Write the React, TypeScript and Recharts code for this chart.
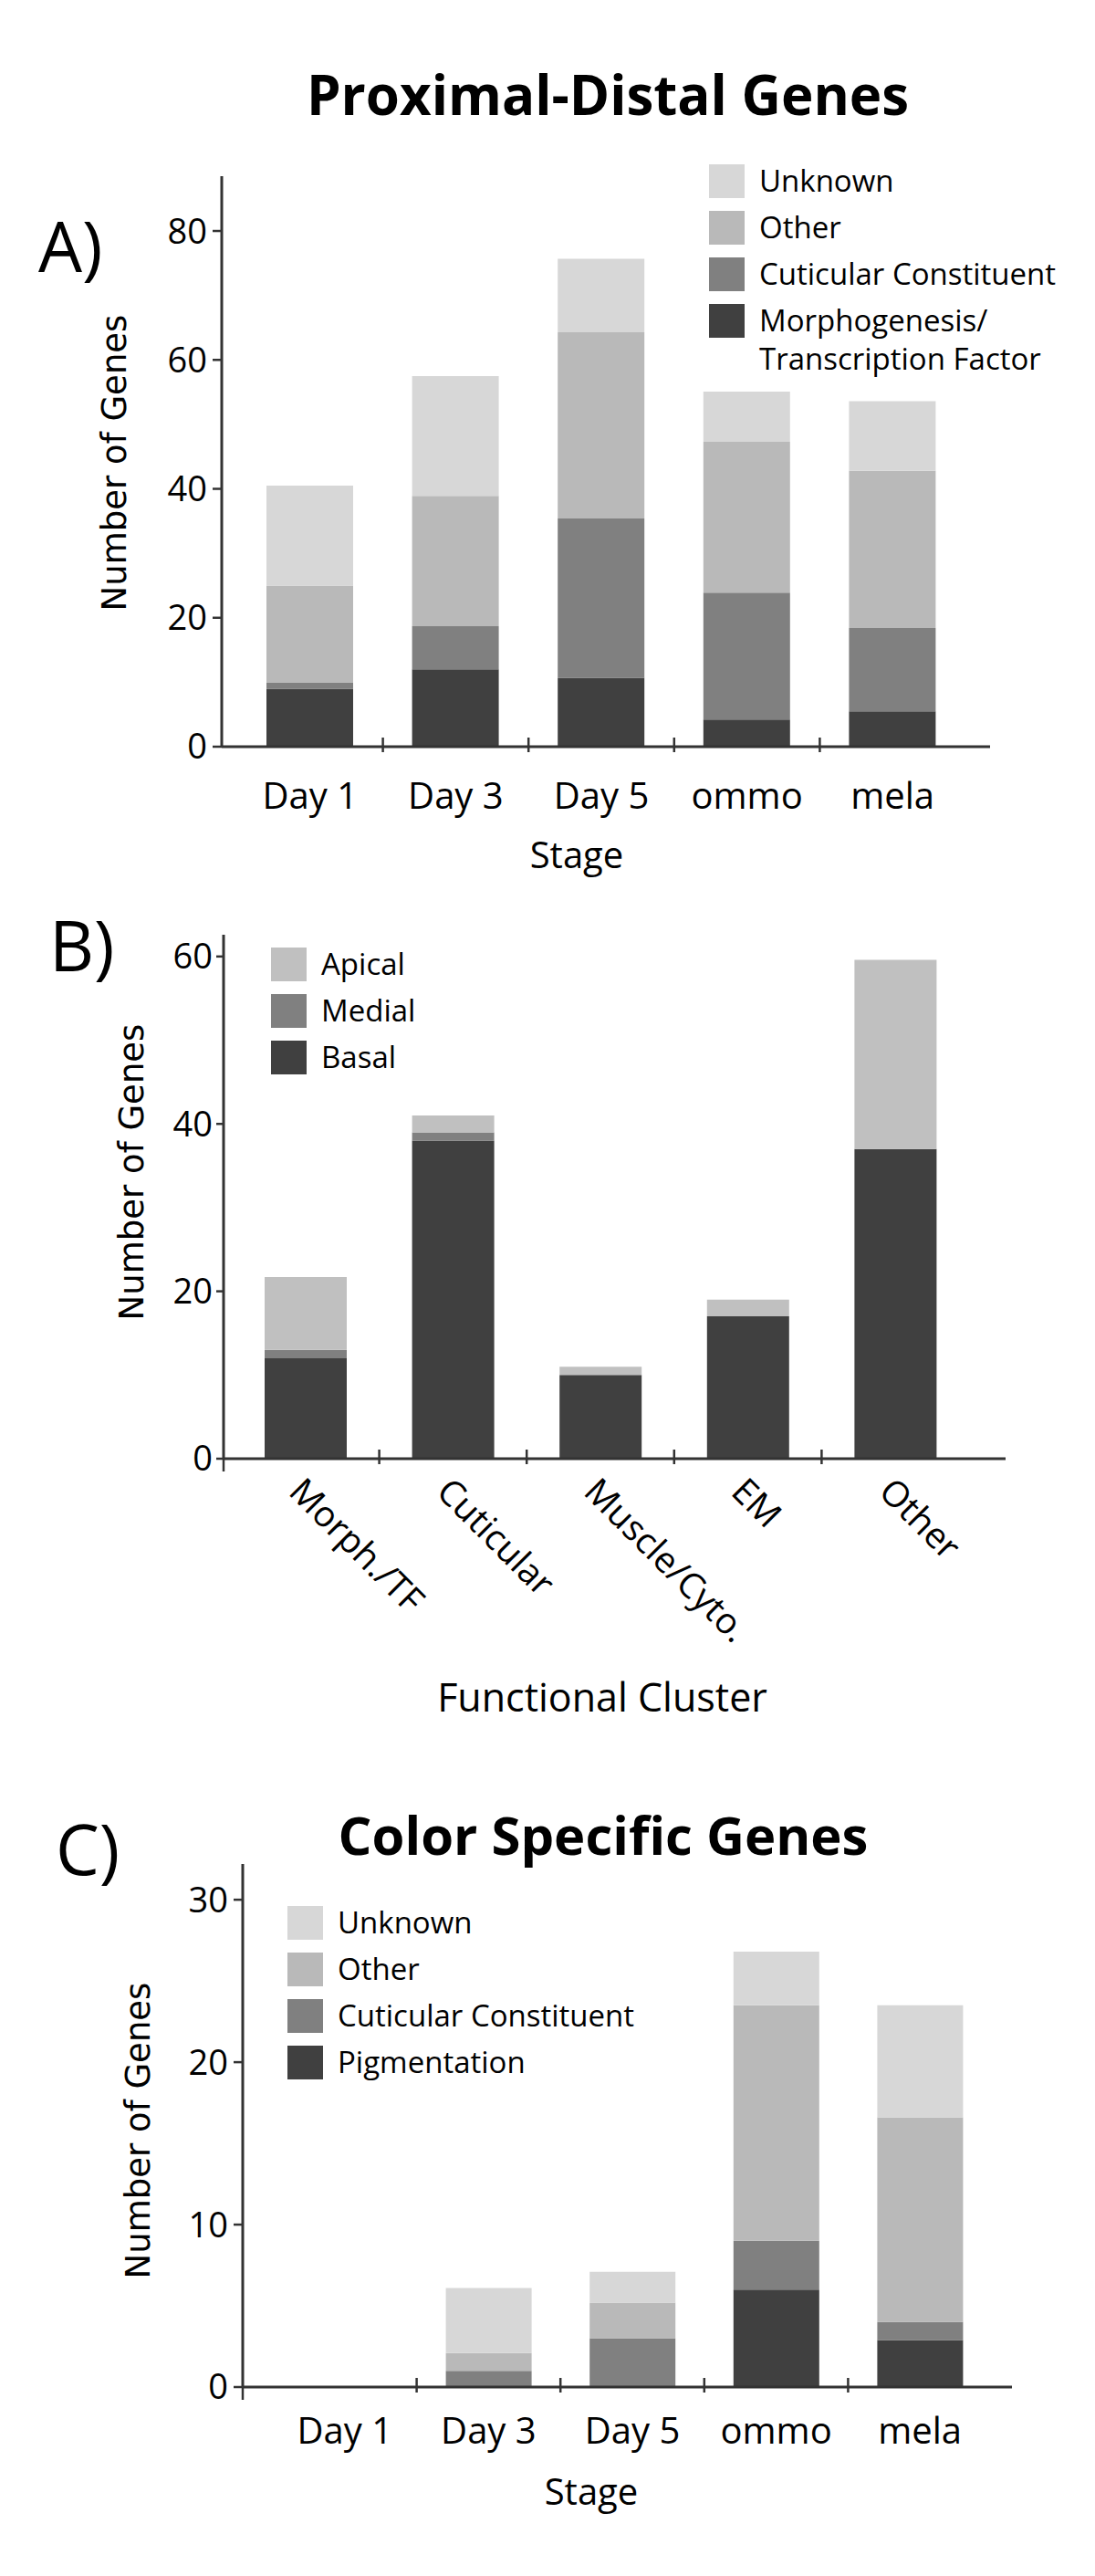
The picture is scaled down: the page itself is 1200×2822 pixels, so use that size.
import { BarChart, Bar, XAxis, YAxis, Legend } from "recharts";

// Panel A: Proximal-Distal Genes by stage
const stagesA = ["Day 1", "Day 3", "Day 5", "ommo", "mela"];
const morphA = [9, 12, 10.7, 4.2, 5.5];
const cuticularA = [1, 6.7, 24.7, 19.7, 12.9];
const otherA = [15, 20.2, 28.9, 23.4, 24.4];
const unknownA = [15.5, 18.6, 11.4, 7.8, 10.8];

// Panel B: functional cluster by position
const clustersB = ["Morph./TF", "Cuticular", "Muscle/Cyto.", "EM", "Other"];
const basalB = [12, 38, 10, 17, 37];
const medialB = [1, 1, 0, 0, 0];
const apicalB = [8.7, 2, 1, 2, 22.6];

// Panel C: Color Specific Genes by stage
const stagesC = ["Day 1", "Day 3", "Day 5", "ommo", "mela"];
const pigmentC = [0, 0, 0, 6, 2.9];
const cuticularC = [0, 1, 3, 3, 1.1];
const otherC = [0, 1.1, 2.2, 14.5, 12.6];
const unknownC = [0, 4, 1.9, 3.3, 6.9];

const ticksA = [0, 20, 40, 60, 80];
const ticksB = [0, 20, 40, 60];
const ticksC = [0, 10, 20, 30];

const dataA = stagesA.map((stage, i) => ({
  stage,
  morph: morphA[i],
  cuticular: cuticularA[i],
  other: otherA[i],
  unknown: unknownA[i],
}));
const dataB = clustersB.map((cluster, i) => ({
  cluster,
  basal: basalB[i],
  medial: medialB[i],
  apical: apicalB[i],
}));
const dataC = stagesC.map((stage, i) => ({
  stage,
  pigment: pigmentC[i],
  cuticular: cuticularC[i],
  other: otherC[i],
  unknown: unknownC[i],
}));

const C_UNKNOWN = "#d7d7d7";
const C_OTHER = "#b9b9b9";
const C_CUT = "#808080";
const C_DARK = "#404040";
const C_APICAL = "#c0c0c0";
const AXIS = "#333";
const SANS = "'Open Sans', sans-serif";
const WIDE = "'DejaVu Sans', sans-serif";

// legend listed top-down, in the order given by `order` (dataKeys)
const LegendBox = (props: any) => {
  const payload = props.payload || [];
  const items = props.order
    .map((k: string) => payload.find((p: any) => p.dataKey === k))
    .filter(Boolean);
  return (
    <div style={{ fontFamily: SANS, fontSize: 33, color: "#000" }}>
      {items.map((it: any, i: number) => (
        <div key={i} style={{ position: "relative", height: 51 }}>
          <span
            style={{
              position: "absolute",
              left: 0,
              top: 0,
              width: 39,
              height: 37,
              background: it.color,
            }}
          />
          <span
            style={{
              position: "absolute",
              left: 55,
              top: -3,
              lineHeight: "42px",
              whiteSpace: "pre",
            }}
          >
            {it.value}
          </span>
        </div>
      ))}
    </div>
  );
};

// category label at band centre, tick marks drawn at band boundaries
const CatTick = (props: any) => {
  const { x, y, payload, index, band, dy, rotate, fontSize, edgeTick, padLeft } = props;
  const bx = x - band / 2;
  return (
    <g>
      {index > 0 && <line x1={bx} x2={bx} y1={y - 10} y2={y + 6} stroke={AXIS} strokeWidth={2.5} />}
      {index === 0 && edgeTick && (
        <line x1={bx - padLeft} x2={bx - padLeft} y1={y} y2={y + 14} stroke={AXIS} strokeWidth={2.5} />
      )}
      {rotate ? (
        <text
          x={x - 20}
          y={y + dy}
          transform={`rotate(45 ${x - 20} ${y + dy})`}
          fontFamily={SANS}
          fontSize={fontSize}
          fill="#000"
          textAnchor="start"
        >
          {payload.value}
        </text>
      ) : (
        <text x={x} y={y + dy} fontFamily={SANS} fontSize={fontSize} fill="#000" textAnchor="middle">
          {payload.value}
        </text>
      )}
    </g>
  );
};

const yTick = { fontFamily: SANS, fontSize: 38, fill: "#000" };

const App = () => {
  // plot widths used for the band size of the boundary ticks
  const bandA = (1085 - 243 - 17 - 27) / stagesA.length;
  const bandB = (1102 - 245 - 9 - 40) / clustersB.length;
  const bandC = (1109 - 266 - 33 - 22) / stagesC.length;

  return (
    <div style={{ position: "absolute", left: 0, top: 0, width: 1200, height: 2822, background: "#fff" }}>
      <div style={{ position: "absolute", left: 0, top: 0 }}>
        <BarChart
          width={1200}
          height={1000}
          data={dataA}
          margin={{ top: 193, right: 115, left: 183, bottom: 122 }}
          barSize={95}
        >
          <XAxis
            dataKey="stage"
            height={60}
            padding={{ left: 17, right: 27 }}
            axisLine={{ stroke: AXIS, strokeWidth: 3 }}
            tickLine={false}
            tickSize={0}
            tickMargin={0}
            interval={0}
            tick={(p: any) => <CatTick {...p} band={bandA} dy={68} fontSize={40} />}
          />
          <YAxis
            width={60}
            domain={[0, 88.5]}
            ticks={ticksA}
            allowDataOverflow
            axisLine={{ stroke: AXIS, strokeWidth: 3 }}
            tickLine={{ stroke: AXIS, strokeWidth: 2.5 }}
            tickSize={10}
            tickMargin={6}
            tick={yTick}
          />
          <Legend
            layout="vertical"
            align="center"
            verticalAlign="middle"
            wrapperStyle={{ left: 777, top: 180, width: 420 }}
            content={(p: any) => <LegendBox {...p} order={["unknown", "other", "cuticular", "morph"]} />}
          />
          <Bar dataKey="morph" name={"Morphogenesis/\nTranscription Factor"} stackId="a" fill={C_DARK} isAnimationActive={false} />
          <Bar dataKey="cuticular" name="Cuticular Constituent" stackId="a" fill={C_CUT} isAnimationActive={false} />
          <Bar dataKey="other" name="Other" stackId="a" fill={C_OTHER} isAnimationActive={false} />
          <Bar dataKey="unknown" name="Unknown" stackId="a" fill={C_UNKNOWN} isAnimationActive={false} />
        </BarChart>
      </div>

      <div style={{ position: "absolute", left: 0, top: 950 }}>
        <BarChart
          width={1200}
          height={900}
          data={dataB}
          margin={{ top: 74, right: 98, left: 185, bottom: 192 }}
          barSize={90}
        >
          <XAxis
            dataKey="cluster"
            height={60}
            padding={{ left: 9, right: 40 }}
            axisLine={{ stroke: AXIS, strokeWidth: 3 }}
            tickLine={false}
            tickSize={0}
            tickMargin={0}
            interval={0}
            tick={(p: any) => <CatTick {...p} band={bandB} dy={38} fontSize={39} rotate edgeTick padLeft={9} />}
          />
          <YAxis
            width={60}
            domain={[0, 62.6]}
            ticks={ticksB}
            allowDataOverflow
            axisLine={{ stroke: AXIS, strokeWidth: 3 }}
            tickLine={{ stroke: AXIS, strokeWidth: 2.5 }}
            tickSize={8}
            tickMargin={4}
            tick={yTick}
          />
          <Legend
            layout="vertical"
            align="center"
            verticalAlign="middle"
            wrapperStyle={{ left: 297, top: 88, width: 300 }}
            content={(p: any) => <LegendBox {...p} order={["apical", "medial", "basal"]} />}
          />
          <Bar dataKey="basal" name="Basal" stackId="b" fill={C_DARK} isAnimationActive={false} />
          <Bar dataKey="medial" name="Medial" stackId="b" fill={C_CUT} isAnimationActive={false} />
          <Bar dataKey="apical" name="Apical" stackId="b" fill={C_APICAL} isAnimationActive={false} />
        </BarChart>
      </div>

      <div style={{ position: "absolute", left: 0, top: 1950 }}>
        <BarChart
          width={1200}
          height={850}
          data={dataC}
          margin={{ top: 92, right: 91, left: 206, bottom: 125 }}
          barSize={94}
        >
          <XAxis
            dataKey="stage"
            height={60}
            padding={{ left: 33, right: 22 }}
            axisLine={{ stroke: AXIS, strokeWidth: 3 }}
            tickLine={false}
            tickSize={0}
            tickMargin={0}
            interval={0}
            tick={(p: any) => <CatTick {...p} band={bandC} dy={62} fontSize={40} edgeTick padLeft={33} />}
          />
          <YAxis
            width={60}
            domain={[0, 32.2]}
            ticks={ticksC}
            allowDataOverflow
            axisLine={{ stroke: AXIS, strokeWidth: 3 }}
            tickLine={{ stroke: AXIS, strokeWidth: 2.5 }}
            tickSize={10}
            tickMargin={6}
            tick={yTick}
          />
          <Legend
            layout="vertical"
            align="center"
            verticalAlign="middle"
            wrapperStyle={{ left: 315, top: 138, width: 400 }}
            content={(p: any) => <LegendBox {...p} order={["unknown", "other", "cuticular", "pigment"]} />}
          />
          <Bar dataKey="pigment" name="Pigmentation" stackId="c" fill={C_DARK} isAnimationActive={false} />
          <Bar dataKey="cuticular" name="Cuticular Constituent" stackId="c" fill={C_CUT} isAnimationActive={false} />
          <Bar dataKey="other" name="Other" stackId="c" fill={C_OTHER} isAnimationActive={false} />
          <Bar dataKey="unknown" name="Unknown" stackId="c" fill={C_UNKNOWN} isAnimationActive={false} />
        </BarChart>
      </div>

      <svg
        width={1200}
        height={2822}
        style={{ position: "absolute", left: 0, top: 0, pointerEvents: "none" }}
      >
        <text x={666} y={126} textAnchor="middle" fontFamily={SANS} fontWeight={700} fontSize={60} fill="#000">
          Proximal-Distal Genes
        </text>
        <text x={42} y={298} fontFamily={SANS} fontSize={76} fill="#000">A)</text>
        <text x={138} y={507} transform="rotate(-90 138 507)" textAnchor="middle" fontFamily={WIDE} fontSize={37} fill="#000">
          Number of Genes
        </text>
        <text x={632} y={951} textAnchor="middle" fontFamily={SANS} fontSize={40} fill="#000">Stage</text>

        <text x={54} y={1064} fontFamily={SANS} fontSize={76} fill="#000">B)</text>
        <text x={157} y={1284} transform="rotate(-90 157 1284)" textAnchor="middle" fontFamily={WIDE} fontSize={37} fill="#000">
          Number of Genes
        </text>
        <text x={660} y={1875} textAnchor="middle" fontFamily={SANS} fontSize={43} fill="#000">Functional Cluster</text>

        <text x={61} y={2054} fontFamily={SANS} fontSize={76} fill="#000">C)</text>
        <text x={661} y={2032} textAnchor="middle" fontFamily={SANS} fontWeight={700} fontSize={58} fill="#000">
          Color Specific Genes
        </text>
        <text x={164} y={2334} transform="rotate(-90 164 2334)" textAnchor="middle" fontFamily={WIDE} fontSize={37} fill="#000">
          Number of Genes
        </text>
        <text x={648} y={2744} textAnchor="middle" fontFamily={SANS} fontSize={40} fill="#000">Stage</text>
      </svg>
    </div>
  );
};

export default App;
